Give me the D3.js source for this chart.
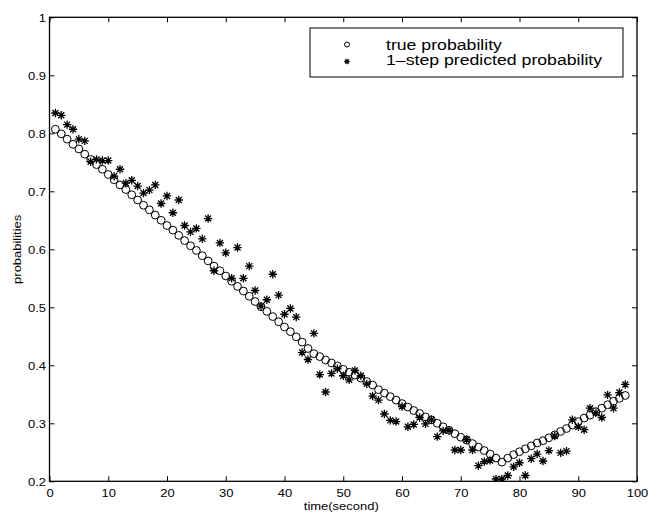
<!DOCTYPE html>
<html>
<head>
<meta charset="utf-8">
<script src="https://cdn.jsdelivr.net/npm/d3@7"></script>
<style>
  html, body { margin: 0; padding: 0; background: #fff; }
  svg { display: block; }
  text { font-family: "Liberation Sans", Arial, Helvetica, sans-serif; fill: #000; }
</style>
</head>
<body>
<svg id="chart" width="661" height="513"></svg>
<script>
// ---- data ----
const time = d3.range(1, 99); // 1..98 seconds (sample index)
const trueProb = [
  0.807,0.799,0.790,0.781,0.773,0.764,0.755,0.746,0.738,0.729,
  0.720,0.711,0.703,0.694,0.685,0.676,0.668,0.659,0.650,0.641,
  0.633,0.624,0.615,0.606,0.598,0.589,0.580,0.571,0.563,0.554,
  0.545,0.536,0.528,0.519,0.510,0.501,0.493,0.484,0.475,0.466,
  0.458,0.449,0.440,0.429,0.420,0.415,0.409,0.404,0.399,0.393,
  0.388,0.383,0.378,0.372,0.366,0.358,0.352,0.346,0.340,0.334,
  0.328,0.322,0.317,0.311,0.306,0.300,0.294,0.288,0.282,0.276,
  0.271,0.265,0.259,0.253,0.247,0.240,0.233,0.240,0.246,0.251,
  0.256,0.261,0.266,0.270,0.275,0.280,0.286,0.291,0.297,0.303,
  0.309,0.314,0.320,0.326,0.332,0.338,0.343,0.348
];
const predProb = [
  0.835,0.831,0.815,0.807,0.790,0.787,0.751,0.755,0.753,0.753,
  0.726,0.738,0.714,0.719,0.709,0.697,0.702,0.711,0.679,0.692,
  0.663,0.685,0.641,0.630,0.636,0.618,0.653,0.563,0.611,0.594,
  0.550,0.603,0.550,0.571,0.529,0.502,0.513,0.557,0.521,0.488,
  0.498,0.483,0.422,0.410,0.455,0.384,0.354,0.386,0.394,0.382,
  0.375,0.391,0.382,0.368,0.347,0.340,0.316,0.305,0.303,0.329,
  0.294,0.298,0.310,0.299,0.306,0.277,0.287,0.288,0.254,0.254,
  0.272,0.254,0.227,0.234,0.236,0.204,0.204,0.210,0.225,0.232,
  0.210,0.239,0.247,0.235,0.253,0.278,0.249,0.252,0.306,0.294,
  0.289,0.326,0.318,0.310,0.349,0.326,0.353,0.367
];
const xTicks = [0,10,20,30,40,50,60,70,80,90,100];
const xTickLabels = ["0","10","20","30","40","50","60","70","80","90","100"];
const yTicks = [0.2,0.3,0.4,0.5,0.6,0.7,0.8,0.9,1.0];
const yTickLabels = ["0.2","0.3","0.4","0.5","0.6","0.7","0.8","0.9","1"];
const legendLabels = ["true probability", "1\u2013step predicted probability"];
const xLabel = "time(second)";
const yLabel = "probabilities";

// ---- layout ----
const L = 49.5, R = 637, T = 17.3, B = 481.3;
const SX = 1.18; // horizontal glyph stretch of the original font
const svg = d3.select("#chart");
const x = d3.scaleLinear().domain([0, 100]).range([L, R]);
const y = d3.scaleLinear().domain([0.2, 1]).range([B, T]);

function styleAxis(g) {
  g.selectAll("line").attr("stroke", "#000").attr("stroke-width", 1);
  g.select(".domain").remove();
}
const gx = svg.append("g").attr("transform", `translate(0,${B})`)
  .call(d3.axisBottom(x).tickValues(xTicks).tickSize(-5).tickSizeOuter(0)
        .tickFormat((d, i) => xTickLabels[i]))
  .call(styleAxis);
gx.selectAll("text").attr("font-size", 11).attr("y", 0).attr("dy", 0)
  .attr("transform", `translate(0,15.7) scale(${SX},1)`)
  .attr("font-family", "Liberation Sans, Arial, sans-serif");

svg.append("g").attr("transform", `translate(0,${T})`)
  .call(d3.axisTop(x).tickValues(xTicks).tickSize(-5).tickSizeOuter(0).tickFormat(""))
  .call(styleAxis);

const gy = svg.append("g").attr("transform", `translate(${L},0)`)
  .call(d3.axisLeft(y).tickValues(yTicks).tickSize(-5).tickSizeOuter(0)
        .tickFormat((d, i) => yTickLabels[i]))
  .call(styleAxis);
gy.selectAll("text").attr("font-size", 11).attr("x", 0).attr("dy", 0)
  .attr("transform", `translate(-3.5,4.4) scale(${SX},1)`)
  .attr("font-family", "Liberation Sans, Arial, sans-serif");

svg.append("g").attr("transform", `translate(${R},0)`)
  .call(d3.axisRight(y).tickValues(yTicks).tickSize(-5).tickSizeOuter(0).tickFormat(""))
  .call(styleAxis);

// frame
svg.append("rect").attr("x", L).attr("y", T).attr("width", R - L).attr("height", B - T)
  .attr("fill", "none").attr("stroke", "#000").attr("stroke-width", 1.3);

// axis titles
svg.append("text").text(xLabel).attr("font-size", 11).attr("text-anchor", "middle")
  .attr("transform", `translate(${(L + R) / 2 - 2},509.5) scale(${SX},1)`);
svg.append("text").text(yLabel).attr("font-size", 11).attr("text-anchor", "middle")
  .attr("transform", `translate(21,${(T + B) / 2})  rotate(-90) scale(${SX},1)`);

// clip
svg.append("clipPath").attr("id", "plotclip").append("rect")
  .attr("x", L).attr("y", T).attr("width", R - L).attr("height", B - T);
const plot = svg.append("g").attr("clip-path", "url(#plotclip)");

const starPath = "M-4.2,0H4.2M0,-4.2V4.2M-3,-3L3,3M-3,3L3,-3";

plot.selectAll("circle.true").data(time).join("circle").attr("class", "true")
  .attr("cx", (d) => x(d)).attr("cy", (d, i) => y(trueProb[i])).attr("r", 3.9)
  .attr("fill", "none").attr("stroke", "#000").attr("stroke-width", 1);

plot.selectAll("path.pred").data(time).join("path").attr("class", "pred")
  .attr("transform", (d, i) => `translate(${x(d)},${y(predProb[i])})`)
  .attr("d", starPath).attr("fill", "none").attr("stroke", "#000").attr("stroke-width", 1.3);

// legend
const lg = svg.append("g");
lg.append("rect").attr("x", 310).attr("y", 28).attr("width", 313).attr("height", 49)
  .attr("fill", "#fff").attr("stroke", "#000").attr("stroke-width", 1);
lg.append("circle").attr("cx", 347).attr("cy", 44.5).attr("r", 2.5)
  .attr("fill", "none").attr("stroke", "#000").attr("stroke-width", 1);
lg.append("path").attr("transform", "translate(347,61.5)")
  .attr("d", "M-2.8,0H2.8M0,-2.8V2.8M-2,-2L2,2M-2,2L2,-2")
  .attr("fill", "none").attr("stroke", "#000").attr("stroke-width", 1.1);
legendLabels.forEach((t, i) => {
  lg.append("text").text(t).attr("font-size", 14.5)
    .attr("transform", `translate(${386},${49.5 + i * 15.7}) scale(1.22,1)`);
});
</script>
</body>
</html>
